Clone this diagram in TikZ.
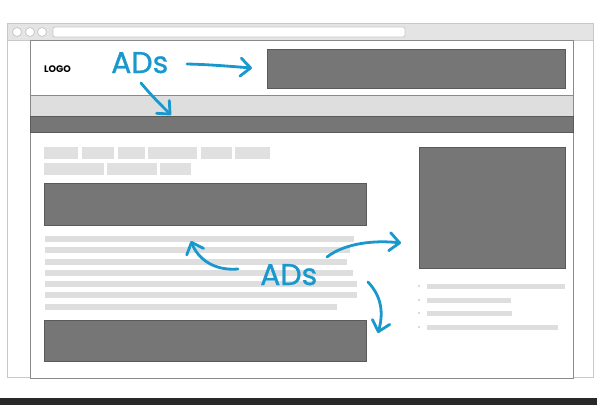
\documentclass[tikz,border=0pt]{standalone}
\usepackage{fontspec}
\setmainfont{Poppins}
\newfontfamily\adfont{Poppins}[FakeBold=0.9]
\usetikzlibrary{arrows.meta}
\definecolor{adblue}{RGB}{24,152,204}
\definecolor{darkad}{RGB}{118,118,118}
\definecolor{darkadline}{RGB}{90,90,90}
\definecolor{lightbar}{RGB}{222,222,222}
\definecolor{tagfill}{RGB}{224,224,224}
\definecolor{frameline}{RGB}{200,200,200}
\definecolor{titlefill}{RGB}{228,228,228}
\definecolor{pageline}{RGB}{138,138,138}
\definecolor{footbar}{RGB}{40,40,40}
\tikzset{
  adbox/.style={fill=darkad, draw=darkadline, line width=0.8pt},
  adarrow/.style={draw=adblue, line width=2.8pt, line cap=round, line join=round,
     -{Straight Barb[length=10pt,width=18pt,round]}},
  adtext/.style={text=adblue, font=\adfont\fontsize{30}{30}\selectfont, inner sep=0pt, anchor=base west},
}
\begin{document}
\begin{tikzpicture}[x=1pt,y=-1pt]
\useasboundingbox (0,0) rectangle (597,405);
\fill[white] (0,0) rectangle (597,405);
% browser frame
\draw[frameline, fill=white, line width=0.8pt] (7,23) rectangle (593,377);
\draw[frameline, fill=titlefill, line width=0.8pt] (7,23) rectangle (593,40);
\foreach \cx in {17,30,42} \draw[frameline, fill=white, line width=0.8pt] (\cx,32) circle (4.5);
\draw[frameline, fill=white, line width=0.8pt, rounded corners=2pt] (53,27) rectangle (405,37);
% page
\draw[pageline, fill=white, line width=1pt] (30,40) rectangle (573,378);
% header
\node[font=\bfseries\fontsize{9.5}{10}\selectfont, inner sep=0pt, anchor=base west] (logo) at (44,72) {LOGO};
\draw[adbox] (267,49) rectangle (565,88);
% nav bands
\draw[fill=lightbar, draw=pageline, line width=0.8pt] (30,95) rectangle (573,116);
\draw[adbox] (30,116) rectangle (573,132);
% tags
\foreach \a/\b in {44/78,82/114,118/145,148/197,201/232,235/270} \fill[tagfill] (\a,147) rectangle (\b,159);
\foreach \a/\b in {44/104,107/157,160/191} \fill[tagfill] (\a,163) rectangle (\b,175);
% content ads
\draw[adbox] (44,183) rectangle (366,225);
\foreach \yy/\e in {239/354,250/350,262/347,273/353,284/357,295/357,307/337} \fill[lightbar] (45,\yy-3) rectangle (\e,\yy+3);
\draw[adbox] (44,320) rectangle (366,361);
% sidebar
\draw[adbox] (419,147) rectangle (565,268);
\foreach \yy/\e in {286/565,300/511,313/512,327/558} {
  \fill[tagfill!80!gray] (419,\yy) circle (1.2);
  \fill[lightbar] (427,\yy-2.5) rectangle (\e,\yy+2.5);
}
% footer bar
\fill[footbar] (0,398) rectangle (597,405);
% ADs labels
\node[adtext] (adsA) at (111,73) {ADs};
\node[adtext] (adsB) at (260,285) {ADs};
\coordinate (a1s) at (187,64); \coordinate (a1e) at (252,68);
\coordinate (a2s) at (141,83); \coordinate (a2e) at (171,115);
\coordinate (a3s) at (238,269); \coordinate (a3e) at (191,241);
\coordinate (a4s) at (327,257); \coordinate (a4e) at (401,243);
\coordinate (a5s) at (368,282); \coordinate (a5e) at (378,333);
% arrows
\draw[adarrow] (a1s) .. controls (210,64.5) and (232,66.5) .. (a1e);
\draw[adarrow] (a2s) .. controls (150,94) and (160,104) .. (a2e);
\draw[adarrow] (a3s) .. controls (214,271) and (198,259) .. (a3e);
\draw[adarrow] (a4s) .. controls (345,243) and (375,240) .. (a4e);
\draw[adarrow] (a5s) .. controls (383,298) and (383,315) .. (a5e);
\end{tikzpicture}
\end{document}
